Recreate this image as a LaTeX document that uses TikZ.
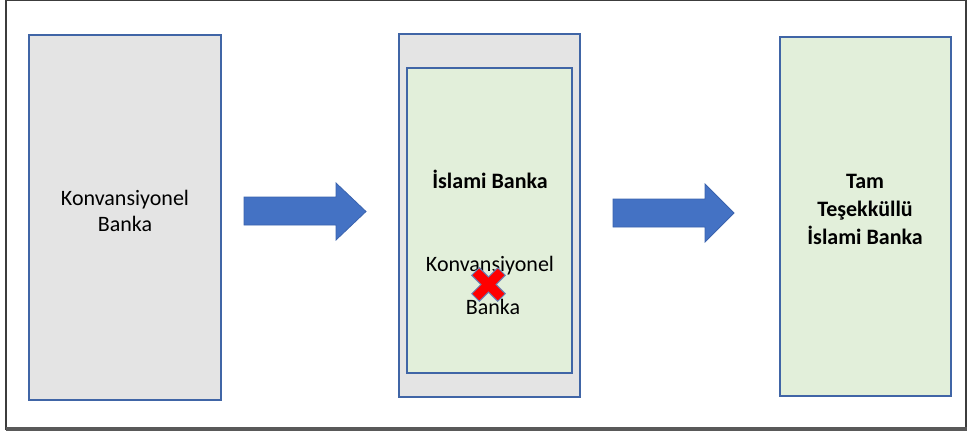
\documentclass[tikz,border=0pt]{standalone}
\usepackage{fontspec}
\setmainfont{Carlito}
\definecolor{boxline}{HTML}{4065A6}
\definecolor{grayfill}{HTML}{E4E4E4}
\definecolor{greenfill}{HTML}{E2EFDA}
\definecolor{arrowfill}{HTML}{4472C4}
\definecolor{arrowline}{HTML}{3A63AE}
\definecolor{framegray}{HTML}{3C3C3C}
\tikzset{
  panel/.style={draw=boxline, line width=1.6pt, inner sep=0pt},
  label/.style={font=\fontsize{16.5}{20}\selectfont, text=black, inner sep=0pt, align=center},
  boldlabel/.style={label, font=\fontsize{16.5}{21}\selectfont\bfseries},
  blockarrow/.style={fill=arrowfill, draw=arrowline, line width=0.6pt, line join=miter},
  cross/.style={fill=red, draw=boxline!80, line width=0.7pt, line join=miter}
}
\begin{document}
\begin{tikzpicture}[x=0.75pt, y=-0.75pt]
\useasboundingbox (0,0) rectangle (969,431);
% outer frame
\draw[framegray, line width=1.2pt] (6,430) -- (6,0.6) -- (966,0.6) -- (966,430);
\draw[framegray!85, line width=2.6pt] (5.5,429) -- (966.5,429);

% left panel
\path[panel, fill=grayfill] (29,35) rectangle (221,400);
\node[label] (conv) at (125,211) {Konvansiyonel\\Banka};

% middle panel, with the inner islamic window
\path[panel, fill=grayfill] (399,34) rectangle (580,397);
\path[panel, fill=greenfill] (407,68) rectangle (572,373);
\node[boldlabel] (isl) at (490,179) {İslami Banka};
\node[label] (konv2) at (490,266) {Konvansiyonel};
\node[label] (banka2) at (493,307) {Banka};

% red cross over the conventional bank
\begin{scope}[shift={(488.5,284.5)}]
  \path[cross] (-16.8,-9.2) -- (-9.2,-16.8) -- (0,-7.6) -- (9.2,-16.8) -- (16.8,-9.2)
        -- (7.6,0) -- (16.8,9.2) -- (9.2,16.8) -- (0,7.6) -- (-9.2,16.8)
        -- (-16.8,9.2) -- (-7.6,0) -- cycle;
\end{scope}

% right panel
\path[panel, fill=greenfill] (780,37) rectangle (951,396);
\node[boldlabel] (full) at (865,209) {Tam\\Teşekküllü\\İslami Banka};

% block arrows
\path[blockarrow] (244,197) -- (336,197) -- (336,183) -- (366,211.5) -- (336,240)
      -- (336,225) -- (244,225) -- cycle;
\path[blockarrow] (613,199) -- (705,199) -- (705,184) -- (734,213) -- (705,242)
      -- (705,227) -- (613,227) -- cycle;
\end{tikzpicture}
\end{document}
